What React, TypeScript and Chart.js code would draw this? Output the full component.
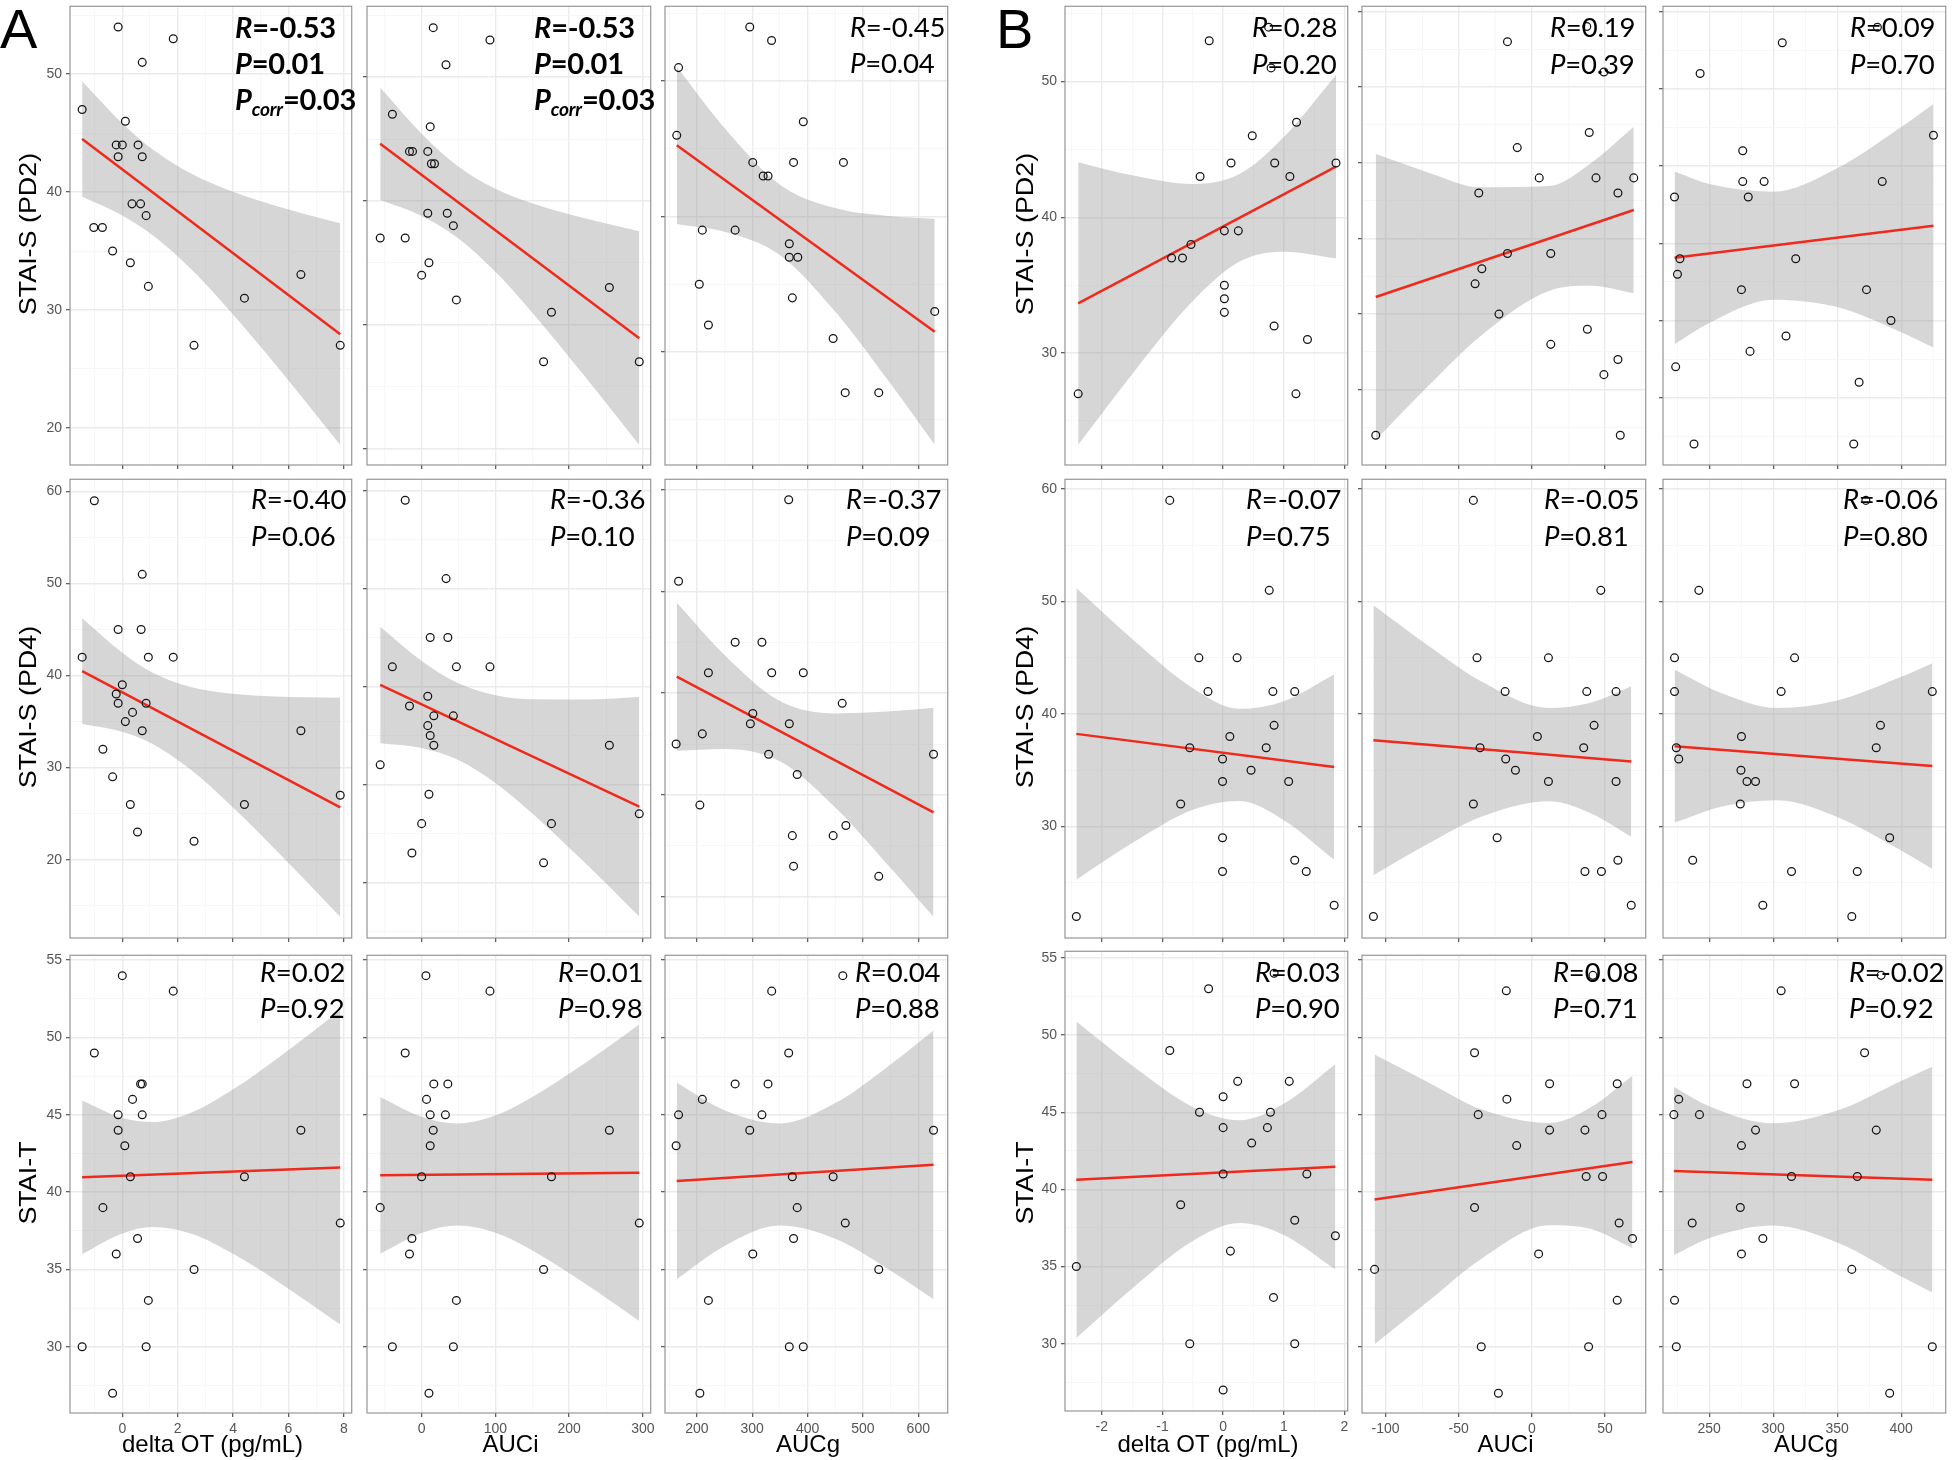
import React, { useEffect, useRef } from "react";
import { Chart, registerables } from "chart.js";

Chart.register(...registerables);

const FONT = "'Liberation Sans', Arial, Helvetica, sans-serif";
const ANN_FONT = "Lato, 'Open Sans', sans-serif";

// ---------------- tick labels (major breaks) ----------------
const A_X_TICKS = [[0, 2, 4, 6, 8], [0, 100, 200, 300], [200, 300, 400, 500, 600]];
const B_X_TICKS = [[-2, -1, 0, 1, 2], [-100, -50, 0, 50], [250, 300, 350, 400]];
const Y_TICKS_10 = [20, 30, 40, 50, 60];
const Y_TICKS_5 = [25, 30, 35, 40, 45, 50, 55];

// ---------------- axis ranges ----------------
const A_X_RANGE = [[-1.889, 8.286], [-74.1, 310.6], [142.5, 653.2]];
const B_X_RANGE = [[-2.607, 2.054], [-116.1, 77.8], [213.9, 434.8]];
const A_Y_RANGE = [
  [[16.85, 55.76], [18.66, 55.73], [21.66, 55.53]],
  [[11.49, 61.33], [14.33, 61.14], [15.94, 61.02]],
  [[25.72, 55.32], [25.72, 55.32], [25.72, 55.32]],
];
const B_Y_RANGE = [
  [[21.76, 55.54], [25.03, 55.34], [25.64, 55.36]],
  [[20.09, 60.88], [20.09, 60.88], [20.09, 60.88]],
  [[25.64, 55.43], [25.72, 55.3], [25.72, 55.3]],
];

// ---------------- group A : STAI-S (PD2) ----------------
const aPd2OtX = [-0.15, 1.84, 0.72, -1.45, 0.11, -0.22, 0, 0.57, -0.15, 0.72, 0.35, 0.66, 0.86, -1.03, -0.72, -0.35, 0.29, 0.94, 4.41, 6.45, 2.59, 7.87];
const aPd2OtY = [54, 53, 51, 47, 46, 44, 44, 44, 43, 43, 39, 39, 38, 37, 37, 35, 34, 32, 31, 33, 27, 27];
const aPd2OtFitX = [-1.45, 7.87];
const aPd2OtFitY = [44.5, 27.95];
const aPd2OtBandX = [-1.45, 0, 1.1, 2.5, 4, 5.5, 7.87];
const aPd2OtUp = [49.4, 45.82, 43.61, 41.55, 40.02, 38.87, 37.35];
const aPd2OtLo = [39.6, 38.02, 36.33, 33.43, 29.62, 25.45, 18.55];

const aPd2AuciX = [-56.2, -39.7, -22.3, 0, -16.5, -12.4, 8.3, 11.6, 15.7, 33, 92.6, 13.2, 17.4, 8.3, 34.7, 43, 9.9, 47.1, 176, 254.5, 165.3, 295];
const aPd2AuciY = [37, 47, 37, 34, 44, 44, 44, 46, 54, 51, 53, 43, 43, 39, 39, 38, 35, 32, 31, 33, 27, 27];
const aPd2AuciFitX = [-56.2, 295];
const aPd2AuciFitY = [44.62, 28.91];
const aPd2AuciBandX = [-56.2, 0, 49, 100, 150, 220, 295];
const aPd2AuciUp = [49.17, 45.43, 42.81, 40.99, 39.81, 38.61, 37.54];
const aPd2AuciLo = [40.07, 38.79, 37.01, 34.27, 30.97, 25.91, 20.28];

const aPd2AucgX = [167, 163.7, 295.6, 335, 392.3, 301, 374.7, 464.8, 319.8, 328.6, 209.9, 269.2, 367, 367, 382.4, 204.4, 372.5, 220.9, 629.7, 446.2, 468, 528.6];
const aPd2AucgY = [51, 46, 54, 53, 47, 44, 44, 44, 43, 43, 39, 39, 38, 37, 37, 35, 34, 32, 33, 31, 27, 27];
const aPd2AucgFitX = [163.7, 629.7];
const aPd2AucgFitY = [45.26, 31.49];
const aPd2AucgBandX = [163.7, 250, 350, 450, 550, 629.7];
const aPd2AucgUp = [51.06, 46.54, 42.36, 40.63, 40.03, 39.83];
const aPd2AucgLo = [39.46, 38.88, 37.16, 32.97, 27.65, 23.15];

// ---------------- group A : STAI-S (PD4) ----------------
const aPd4OtX = [-1.01, 0.72, -0.15, 0.68, -1.45, 0.94, 1.84, 0, -0.22, -0.15, 0.86, 0.37, 0.11, 0.72, 6.45, -0.7, -0.35, 0.29, 4.41, 0.55, 2.59, 7.87];
const aPd4OtY = [59, 51, 45, 45, 42, 42, 42, 39, 38, 37, 37, 36, 35, 34, 34, 32, 29, 26, 26, 23, 22, 27];
const aPd4OtFitX = [-1.45, 7.87];
const aPd4OtFitY = [40.49, 25.69];
const aPd4OtBandX = [-1.45, 0, 1.1, 2.5, 4, 5.5, 7.87];
const aPd4OtUp = [46.24, 42.48, 40.31, 38.73, 38.02, 37.73, 37.59];
const aPd4OtLo = [34.74, 33.9, 32.57, 29.71, 25.66, 21.19, 13.79];

const aPd4AuciX = [-22.3, 33.1, 11.6, 35.5, -39.7, 47.1, 92.6, 8.3, -16.5, 16.5, 43, 8.3, 11.6, 16.5, 254.5, -56.2, 9.9, 0, 165.3, -13.2, 295, 176];
const aPd4AuciY = [59, 51, 45, 45, 42, 42, 42, 39, 38, 37, 37, 36, 35, 34, 34, 32, 29, 26, 22, 23, 27, 26];
const aPd4AuciFitX = [-56.2, 295];
const aPd4AuciFitY = [40.15, 27.73];
const aPd4AuciBandX = [-56.2, 0, 49, 100, 150, 220, 295];
const aPd4AuciUp = [46.1, 42.6, 40.35, 39.11, 38.68, 38.66, 38.93];
const aPd4AuciLo = [34.2, 33.72, 32.51, 30.15, 27.04, 22.1, 16.53];

const aPd4AucgX = [365.9, 167, 269.2, 317.6, 220.9, 335.2, 392.3, 462.6, 301.1, 296.7, 367, 209.9, 162.6, 329.7, 381.3, 627.5, 205.5, 372.5, 446.2, 469.2, 374.7, 528.6];
const aPd4AucgY = [59, 51, 45, 45, 42, 42, 42, 39, 38, 37, 37, 36, 35, 34, 32, 34, 29, 26, 26, 27, 23, 22];
const aPd4AucgFitX = [163.7, 627.5];
const aPd4AucgFitY = [41.62, 28.29];
const aPd4AucgBandX = [163.7, 250, 350, 450, 550, 627.5];
const aPd4AucgUp = [48.89, 43.76, 39.23, 38.01, 38.21, 38.56];
const aPd4AucgLo = [34.35, 34.52, 33.31, 28.77, 22.83, 18.02];

// ---------------- group A : STAI-T ----------------
const aTOtX = [0, 1.84, -1.01, 0.66, 0.72, 0.37, -0.15, 0.72, -0.15, 6.45, 0.09, 0.29, 4.41, -0.7, 7.87, 0.55, -0.22, 2.59, 0.94, -1.45, 0.86, -0.35];
const aTOtY = [54, 53, 49, 47, 47, 46, 45, 45, 44, 44, 43, 41, 41, 39, 38, 37, 36, 35, 33, 30, 30, 27];
const aTOtFitX = [-1.45, 7.87];
const aTOtFitY = [40.96, 41.6];
const aTOtBandX = [-1.45, 0, 1.1, 2.5, 4, 5.5, 7.87];
const aTOtUp = [45.92, 44.79, 44.53, 45.15, 46.65, 48.52, 51.75];
const aTOtLo = [36.0, 37.33, 37.75, 37.31, 36.01, 34.36, 31.45];

const aTAuciX = [5.8, 92.6, -22.3, 16.5, 35.5, 6.6, 11.6, 32.2, 15.7, 254.5, 11.6, 0, 176, -56.2, 295, -13.2, -16.5, 165.3, 47.1, -39.7, 43, 9.9];
const aTAuciY = [54, 53, 49, 47, 47, 46, 45, 45, 44, 44, 43, 41, 41, 39, 38, 37, 36, 35, 33, 30, 30, 27];
const aTAuciFitX = [-56.2, 295];
const aTAuciFitY = [41.09, 41.26];
const aTAuciBandX = [-56.2, 0, 49, 100, 150, 220, 295];
const aTAuciUp = [46.16, 44.88, 44.44, 44.95, 46.15, 48.3, 50.85];
const aTAuciLo = [36.02, 37.36, 37.84, 37.37, 36.23, 34.14, 31.67];

const aTAucgX = [463.7, 335.2, 365.9, 269.2, 328.6, 209.9, 167, 317.6, 295.6, 627.5, 162.6, 372.5, 446.2, 381.3, 468.1, 374.7, 301.1, 528.6, 220.9, 367, 392.3, 205.5];
const aTAucgY = [54, 53, 49, 47, 47, 46, 45, 45, 44, 44, 43, 41, 41, 39, 38, 37, 36, 35, 33, 30, 30, 27];
const aTAucgFitX = [163.7, 627.5];
const aTAucgFitY = [40.72, 41.77];
const aTAucgBandX = [163.7, 250, 350, 450, 550, 627.5];
const aTAucgUp = [47.07, 45.3, 44.44, 45.76, 48.26, 50.46];
const aTAucgLo = [34.37, 36.52, 37.84, 36.98, 34.92, 33.08];

// ---------------- group B : STAI-S (PD2) ----------------
const bPd2OtX = [-0.23, 0.75, 0.79, 1.21, 0.48, 0.13, 0.85, 1.86, -0.38, 1.1, 0.02, 0.25, -0.53, -0.85, -0.67, 0.02, 0.02, 0.02, 0.84, 1.39, -2.39, 1.2];
const bPd2OtY = [53, 54, 51, 47, 46, 44, 44, 44, 43, 43, 39, 39, 38, 37, 37, 35, 34, 33, 32, 31, 27, 27];
const bPd2OtFitX = [-2.39, 1.86];
const bPd2OtFitY = [33.66, 43.73];
const bPd2OtBandX = [-2.39, -1.5, -0.5, 0.27, 1, 1.86];
const bPd2OtUp = [44.06, 43.09, 42.45, 43.18, 45.91, 50.48];
const bPd2OtLo = [23.26, 28.45, 33.83, 36.74, 37.47, 36.98];

const bPd2AuciX = [-16.7, 37.5, 49.2, 39.2, -10, -36.3, 5, 43.8, 69.6, 58.8, -16.7, 12.9, -34.2, -38.8, -22.5, 37.9, 12.9, 58.8, 49.2, -106.7, 60.4];
const bPd2AuciY = [53, 54, 51, 47, 46, 43, 44, 44, 44, 43, 39, 39, 38, 37, 35, 34, 33, 32, 31, 27, 27];
const bPd2AuciFitX = [-106.7, 69.6];
const bPd2AuciFitY = [36.13, 41.88];
const bPd2AuciBandX = [-106.7, -70, -35, 12, 40, 69.6];
const bPd2AuciUp = [45.57, 44.33, 43.38, 43.46, 44.95, 47.38];
const bPd2AuciLo = [26.69, 30.33, 33.56, 36.54, 36.87, 36.38];

const bPd2AucgX = [307.1, 242.9, 381.4, 425.2, 276.2, 276.2, 292.9, 385.2, 280.5, 222.9, 227.1, 317.6, 225.2, 275.2, 372.9, 392, 310, 281.9, 223.8, 367.1, 238.1, 362.9];
const bPd2AucgY = [53, 51, 54, 47, 46, 44, 44, 44, 43, 43, 39, 39, 38, 37, 37, 35, 34, 33, 32, 31, 27, 27];
const bPd2AucgFitX = [222.9, 425.2];
const bPd2AucgFitY = [39.06, 41.14];
const bPd2AucgBandX = [222.9, 250, 300, 350, 400, 425.2];
const bPd2AucgUp = [44.65, 43.84, 43.35, 44.87, 47.54, 49.03];
const bPd2AucgLo = [33.47, 34.84, 36.35, 35.87, 34.24, 33.25];

// ---------------- group B : STAI-S (PD4) ----------------
const bPd4OtX = [-0.88, 0.76, -0.4, 0.23, -0.25, 0.82, 1.18, 0.84, 0.11, -0.55, 0.71, -0.01, 0.46, -0.01, 1.08, -0.7, -0.01, -0.01, 1.18, 1.37, 1.83, -2.42];
const bPd4OtY = [59, 51, 45, 45, 42, 42, 42, 39, 38, 37, 37, 36, 35, 34, 34, 32, 29, 26, 27, 26, 23, 22];
const bPd4OtFitX = [-2.42, 1.83];
const bPd4OtFitY = [38.24, 35.29];
const bPd4OtBandX = [-2.42, -1.5, -0.5, 0.27, 1, 1.83];
const bPd4OtUp = [51.2, 46.67, 42.3, 40.47, 41.15, 43.52];
const bPd4OtLo = [25.28, 28.53, 31.5, 32.27, 30.57, 27.06];

const bPd4AuciX = [-40, 47.1, -37.5, 11.3, -18.3, 37.5, 57.5, 42.5, 3.75, -35.4, 35.4, -17.9, -11.25, 11.3, 57.5, -40, -23.75, 36.25, 47.5, 58.75, 67.9, -108.3];
const bPd4AuciY = [59, 51, 45, 45, 42, 42, 42, 39, 38, 37, 37, 36, 35, 34, 34, 32, 29, 26, 26, 27, 23, 22];
const bPd4AuciFitX = [-108.3, 67.9];
const bPd4AuciFitY = [37.68, 35.79];
const bPd4AuciBandX = [-108.3, -70, -35, 12, 40, 67.9];
const bPd4AuciUp = [49.68, 46.01, 42.94, 40.54, 41.0, 42.48];
const bPd4AuciLo = [25.68, 28.53, 30.84, 32.24, 31.18, 29.1];

const bPd4AucgX = [372.4, 241.9, 222.9, 316.7, 222.9, 306.2, 424.3, 383.8, 275.2, 224.3, 380.5, 226.2, 274.8, 279.5, 286.2, 274.3, 391, 237.1, 314.3, 365.7, 291.9, 361.4];
const bPd4AucgY = [59, 51, 45, 45, 42, 42, 42, 39, 38, 37, 37, 36, 35, 34, 34, 32, 29, 27, 26, 26, 23, 22];
const bPd4AucgFitX = [222.9, 424.3];
const bPd4AucgFitY = [37.15, 35.38];
const bPd4AucgBandX = [222.9, 260, 303, 350, 400, 424.3];
const bPd4AucgUp = [43.95, 41.85, 40.54, 41.21, 43.31, 44.53];
const bPd4AucgLo = [30.35, 31.79, 32.34, 30.85, 27.87, 26.23];

// ---------------- group B : STAI-T ----------------
const bTOtX = [-0.24, 0.84, -0.88, 0.24, 1.09, 0, -0.39, 0.78, 0, 0.73, 0.47, 0, 1.38, -0.7, 1.18, 1.85, 0.12, -2.42, 0.83, -0.55, 1.18, 0];
const bTOtY = [53, 54, 49, 47, 47, 46, 45, 45, 44, 44, 43, 41, 41, 39, 38, 37, 36, 35, 33, 30, 30, 27];
const bTOtFitX = [-2.42, 1.85];
const bTOtFitY = [40.62, 41.46];
const bTOtBandX = [-2.42, -1.5, -0.5, 0.27, 1, 1.85];
const bTOtUp = [50.87, 48.02, 45.34, 44.48, 45.55, 48.11];
const bTOtLo = [30.37, 33.58, 36.66, 37.82, 37.05, 34.81];

const bTAuciX = [-17.5, 41.7, -39.2, 12.1, 58.3, -17.1, -36.7, 47.9, 12.1, 36.25, -10.4, 37.1, 48.3, -39.2, 59.6, 68.75, 4.6, -107.5, 58.3, -34.6, 38.75, -22.9];
const bTAuciY = [53, 54, 49, 47, 47, 46, 45, 45, 44, 44, 43, 41, 41, 39, 38, 37, 36, 35, 33, 30, 30, 27];
const bTAuciFitX = [-107.5, 68.75];
const bTAuciFitY = [39.52, 41.94];
const bTAuciBandX = [-107.5, -70, -35, 12, 40, 68.75];
const bTAuciUp = [48.88, 47.05, 45.36, 44.46, 45.46, 47.51];
const bTAuciLo = [30.16, 33.01, 35.66, 37.86, 37.62, 36.37];

const bTAucgX = [306.2, 384.3, 371.4, 279.5, 316.7, 226.2, 222.4, 242.4, 286.2, 380.5, 275.2, 314.3, 365.7, 274.3, 236.7, 291.9, 275.2, 361.4, 222.9, 224.3, 424.3, 391];
const bTAucgY = [53, 54, 49, 47, 47, 46, 45, 45, 44, 44, 43, 41, 41, 39, 38, 37, 36, 35, 33, 30, 30, 27];
const bTAucgFitX = [222.4, 424.3];
const bTAucgFitY = [41.36, 40.8];
const bTAucgBandX = [222.4, 250, 300, 350, 400, 424.3];
const bTAucgUp = [46.79, 45.54, 44.44, 45.26, 47.18, 48.09];
const bTAucgLo = [35.93, 37.02, 37.84, 36.74, 34.54, 33.51];

// ---------------- statistics text ----------------
const A_STATS = [
  [[["R", "-0.53"], ["P", "0.01"], ["Pcorr", "0.03"]], [["R", "-0.53"], ["P", "0.01"], ["Pcorr", "0.03"]], [["R", "-0.45"], ["P", "0.04"]]],
  [[["R", "-0.40"], ["P", "0.06"]], [["R", "-0.36"], ["P", "0.10"]], [["R", "-0.37"], ["P", "0.09"]]],
  [[["R", "0.02"], ["P", "0.92"]], [["R", "0.01"], ["P", "0.98"]], [["R", "0.04"], ["P", "0.88"]]],
];
const B_STATS = [
  [[["R", "0.28"], ["P", "0.20"]], [["R", "0.19"], ["P", "0.39"]], [["R", "0.09"], ["P", "0.70"]]],
  [[["R", "-0.07"], ["P", "0.75"]], [["R", "-0.05"], ["P", "0.81"]], [["R", "-0.06"], ["P", "0.80"]]],
  [[["R", "0.03"], ["P", "0.90"]], [["R", "0.08"], ["P", "0.71"]], [["R", "-0.02"], ["P", "0.92"]]],
];
const A_BOLD = [[true, true, false], [false, false, false], [false, false, false]];

const ROW_TITLES = ["STAI-S (PD2)", "STAI-S (PD4)", "STAI-T"];
const COL_TITLES = ["delta OT (pg/mL)", "AUCi", "AUCg"];
const GROUP_LABELS = ["A", "B"];

// ---------------- layout (pixels) ----------------
const A_COLS = [[70, 355], [367, 654], [665, 951]];
const B_COLS = [[1065, 1351], [1362, 1649], [1663, 1949]];
const ROWS = [[3, 465], [476, 938], [952, 1413]];
const A_ANN_X = [[235, 534, 850], [251, 550, 846], [260, 558, 855]];
const B_ANN_X = [[1252, 1550, 1850], [1246, 1544, 1843], [1255, 1553, 1849]];
const A_ANN_Y = [[28, 64, 100], [500, 536.5], [972.5, 1009]];
const B_ANN_Y = [[28, 64.5], [499.5, 536.5], [972.5, 1009]];

const zip = (xs: number[], ys: number[]) => xs.map((x, i) => ({ x, y: ys[i] }));

type Spec = {
  key: string;
  rect: number[];
  col: number;
  row: number;
  pts: any[];
  fit: any[];
  up: any[];
  lo: any[];
  xr: number[];
  yr: number[];
  xt: number[];
  yt: number[];
};

const A_DATA = [
  [
    [aPd2OtX, aPd2OtY, aPd2OtFitX, aPd2OtFitY, aPd2OtBandX, aPd2OtUp, aPd2OtLo],
    [aPd2AuciX, aPd2AuciY, aPd2AuciFitX, aPd2AuciFitY, aPd2AuciBandX, aPd2AuciUp, aPd2AuciLo],
    [aPd2AucgX, aPd2AucgY, aPd2AucgFitX, aPd2AucgFitY, aPd2AucgBandX, aPd2AucgUp, aPd2AucgLo],
  ],
  [
    [aPd4OtX, aPd4OtY, aPd4OtFitX, aPd4OtFitY, aPd4OtBandX, aPd4OtUp, aPd4OtLo],
    [aPd4AuciX, aPd4AuciY, aPd4AuciFitX, aPd4AuciFitY, aPd4AuciBandX, aPd4AuciUp, aPd4AuciLo],
    [aPd4AucgX, aPd4AucgY, aPd4AucgFitX, aPd4AucgFitY, aPd4AucgBandX, aPd4AucgUp, aPd4AucgLo],
  ],
  [
    [aTOtX, aTOtY, aTOtFitX, aTOtFitY, aTOtBandX, aTOtUp, aTOtLo],
    [aTAuciX, aTAuciY, aTAuciFitX, aTAuciFitY, aTAuciBandX, aTAuciUp, aTAuciLo],
    [aTAucgX, aTAucgY, aTAucgFitX, aTAucgFitY, aTAucgBandX, aTAucgUp, aTAucgLo],
  ],
];
const B_DATA = [
  [
    [bPd2OtX, bPd2OtY, bPd2OtFitX, bPd2OtFitY, bPd2OtBandX, bPd2OtUp, bPd2OtLo],
    [bPd2AuciX, bPd2AuciY, bPd2AuciFitX, bPd2AuciFitY, bPd2AuciBandX, bPd2AuciUp, bPd2AuciLo],
    [bPd2AucgX, bPd2AucgY, bPd2AucgFitX, bPd2AucgFitY, bPd2AucgBandX, bPd2AucgUp, bPd2AucgLo],
  ],
  [
    [bPd4OtX, bPd4OtY, bPd4OtFitX, bPd4OtFitY, bPd4OtBandX, bPd4OtUp, bPd4OtLo],
    [bPd4AuciX, bPd4AuciY, bPd4AuciFitX, bPd4AuciFitY, bPd4AuciBandX, bPd4AuciUp, bPd4AuciLo],
    [bPd4AucgX, bPd4AucgY, bPd4AucgFitX, bPd4AucgFitY, bPd4AucgBandX, bPd4AucgUp, bPd4AucgLo],
  ],
  [
    [bTOtX, bTOtY, bTOtFitX, bTOtFitY, bTOtBandX, bTOtUp, bTOtLo],
    [bTAuciX, bTAuciY, bTAuciFitX, bTAuciFitY, bTAuciBandX, bTAuciUp, bTAuciLo],
    [bTAucgX, bTAucgY, bTAucgFitX, bTAucgFitY, bTAucgBandX, bTAucgUp, bTAucgLo],
  ],
];

function yTicksFor(g: string, r: number, c: number) {
  if (g === "A") return r === 2 ? Y_TICKS_5 : Y_TICKS_10;
  if (r === 0) return c === 0 ? Y_TICKS_10 : Y_TICKS_5;
  if (r === 1) return Y_TICKS_10;
  return Y_TICKS_5;
}

function buildSpecs(): Spec[] {
  const out: Spec[] = [];
  ["A", "B"].forEach((g) => {
    const data = g === "A" ? A_DATA : B_DATA;
    const cols = g === "A" ? A_COLS : B_COLS;
    for (let r = 0; r < 3; r++) {
      for (let c = 0; c < 3; c++) {
        const [px, py, fx, fy, bx, bu, bl] = data[r][c];
        let rows = ROWS[r];
        if (g === "B" && r === 2 && c === 0) rows = [948, 1411];
        out.push({
          key: g + r + c,
          rect: [cols[c][0], cols[c][1], rows[0], rows[1]],
          col: c,
          row: r,
          pts: zip(px, py),
          fit: zip(fx, fy),
          up: zip(bx, bu),
          lo: zip(bx, bl),
          xr: g === "A" ? A_X_RANGE[c] : B_X_RANGE[c],
          yr: g === "A" ? A_Y_RANGE[r][c] : B_Y_RANGE[r][c],
          xt: g === "A" ? A_X_TICKS[c] : B_X_TICKS[c],
          yt: yTicksFor(g, r, c),
        });
      }
    }
  });
  return out;
}

const key6 = (v: number) => Number(v).toFixed(6);

function buildTicks(majors: number[], min: number, max: number) {
  const step = majors[1] - majors[0];
  const m = new Map<string, number>();
  const add = (v: number) => {
    if (v >= min - 1e-9 && v <= max + 1e-9) m.set(key6(v), v);
  };
  majors.forEach((v) => {
    add(v);
    add(v - step / 2);
    add(v + step / 2);
  });
  return Array.from(m.values()).sort((a, b) => a - b);
}

function scaleCfg(isX: boolean, range: number[], majors: number[], showLabels: boolean, size: number) {
  const vals = buildTicks(majors, range[0], range[1]);
  const majorSet = new Set(majors.map(key6));
  const isMajor = (v: any) => majorSet.has(key6(v));
  return {
    type: "linear",
    position: isX ? "bottom" : "left",
    min: range[0],
    max: range[1],
    bounds: "data",
    afterBuildTicks: (s: any) => {
      s.ticks = vals.map((v) => ({ value: v }));
    },
    afterFit: (s: any) => {
      if (isX) s.height = size;
      else s.width = size;
      s.paddingLeft = 0;
      s.paddingRight = 0;
      s.paddingTop = 0;
      s.paddingBottom = 0;
    },
    grid: {
      display: true,
      drawOnChartArea: true,
      drawTicks: true,
      color: (c: any) => (c.tick && isMajor(c.tick.value) ? "#ebebeb" : "#f5f5f5"),
      lineWidth: (c: any) => (c.tick && isMajor(c.tick.value) ? 1.4 : 0.8),
      tickColor: (c: any) => (c.tick && isMajor(c.tick.value) ? "#444444" : "rgba(0,0,0,0)"),
      tickLength: 4,
      tickWidth: 1.1,
    },
    border: { display: false },
    ticks: {
      autoSkip: false,
      maxRotation: 0,
      minRotation: 0,
      padding: 4,
      color: "#555555",
      font: { family: FONT, size: 14 },
      callback: (v: any) => (showLabels && isMajor(v) ? String(v) : ""),
    },
  };
}

const borderPlugin = {
  id: "panelBorder",
  afterDraw(chart: any) {
    const { ctx, chartArea: a } = chart;
    ctx.save();
    ctx.strokeStyle = "#8c8c8c";
    ctx.lineWidth = 1.1;
    ctx.strokeRect(a.left, a.top, a.right - a.left, a.bottom - a.top);
    ctx.restore();
  },
};

const PADT = 2;
const PADR = 2;

function Panel({ spec }: { spec: Spec }) {
  const ref = useRef<HTMLCanvasElement>(null);
  const [x0, x1, y0, y1] = spec.rect;
  const L = spec.col === 0 ? 46 : 6;
  const B = spec.row === 2 ? 32 : 6;
  const w = x1 - x0 + L + PADR;
  const h = y1 - y0 + PADT + B;

  useEffect(() => {
    const chart = new Chart(ref.current as HTMLCanvasElement, {
      type: "scatter",
      data: {
        datasets: [
          {
            type: "scatter",
            data: spec.pts,
            pointRadius: 3.9,
            pointBorderWidth: 1.25,
            borderColor: "#151515",
            pointBorderColor: "#151515",
            backgroundColor: "rgba(0,0,0,0)",
            pointBackgroundColor: "rgba(0,0,0,0)",
            order: 0,
          },
          {
            type: "line",
            data: spec.fit,
            borderColor: "#ef2a1c",
            borderWidth: 2.5,
            pointRadius: 0,
            fill: false,
            order: 1,
          },
          {
            type: "line",
            data: spec.up,
            borderColor: "rgba(0,0,0,0)",
            borderWidth: 1,
            pointRadius: 0,
            backgroundColor: "rgba(153,153,153,0.4)",
            fill: "+1",
            cubicInterpolationMode: "monotone",
            order: 2,
          },
          {
            type: "line",
            data: spec.lo,
            borderColor: "rgba(0,0,0,0)",
            borderWidth: 1,
            pointRadius: 0,
            fill: false,
            cubicInterpolationMode: "monotone",
            order: 3,
          },
        ],
      } as any,
      options: {
        animation: false,
        responsive: false,
        maintainAspectRatio: false,
        devicePixelRatio: 1,
        events: [],
        layout: { padding: { top: PADT, right: PADR, left: 0, bottom: 0 } },
        plugins: {
          legend: { display: false },
          tooltip: { enabled: false },
          title: { display: false },
        },
        scales: {
          x: scaleCfg(true, spec.xr, spec.xt, spec.row === 2, B),
          y: scaleCfg(false, spec.yr, spec.yt, spec.col === 0, L),
        },
      } as any,
      plugins: [borderPlugin],
    });
    return () => chart.destroy();
  }, []);

  return (
    <canvas
      ref={ref}
      width={w}
      height={h}
      style={{ position: "absolute", left: x0 - L, top: y0 - PADT, width: w, height: h }}
    />
  );
}

function StatLine({ label, value, bold, left, cy }: any) {
  const lab =
    label === "Pcorr" ? (
      <i>
        P<span style={{ fontSize: "0.66em", position: "relative", top: "0.32em" }}>corr</span>
      </i>
    ) : (
      <i>{label}</i>
    );
  return (
    <div
      style={{
        position: "absolute",
        left,
        top: cy - 19,
        height: 36,
        lineHeight: "36px",
        fontFamily: ANN_FONT,
        fontSize: bold ? 29 : 27.5,
        fontWeight: bold ? 700 : 400,
        color: "#000",
        whiteSpace: "nowrap",
        letterSpacing: "-0.2px",
      }}
    >
      {lab}={value}
    </div>
  );
}

export default function App() {
  const specs = buildSpecs();
  const overlays: any[] = [];

  ["A", "B"].forEach((g, gi) => {
    const stats = g === "A" ? A_STATS : B_STATS;
    const annX = g === "A" ? A_ANN_X : B_ANN_X;
    const annY = g === "A" ? A_ANN_Y : B_ANN_Y;
    const cols = g === "A" ? A_COLS : B_COLS;
    for (let r = 0; r < 3; r++) {
      for (let c = 0; c < 3; c++) {
        stats[r][c].forEach((s: any, i: number) => {
          overlays.push(
            <StatLine
              key={`s${g}${r}${c}${i}`}
              label={s[0]}
              value={s[1]}
              bold={g === "A" && A_BOLD[r][c]}
              left={annX[r][c]}
              cy={annY[r][i]}
            />
          );
        });
      }
      overlays.push(
        <div
          key={`yt${g}${r}`}
          style={{
            position: "absolute",
            left: g === "A" ? 28 : 1025,
            top: (ROWS[r][0] + ROWS[r][1]) / 2,
            transform: "translate(-50%, -50%) rotate(-90deg) scaleX(1.12)",
            fontFamily: FONT,
            fontSize: 24,
            lineHeight: 1,
            whiteSpace: "nowrap",
            color: "#000",
          }}
        >
          {ROW_TITLES[r]}
        </div>
      );
    }
    for (let c = 0; c < 3; c++) {
      overlays.push(
        <div
          key={`xt${g}${c}`}
          style={{
            position: "absolute",
            left: (cols[c][0] + cols[c][1]) / 2,
            top: 1444,
            transform: "translate(-50%, -50%)",
            fontFamily: FONT,
            fontSize: 24,
            lineHeight: 1,
            whiteSpace: "nowrap",
            color: "#000",
          }}
        >
          {COL_TITLES[c]}
        </div>
      );
    }
    overlays.push(
      <div
        key={`g${g}`}
        style={{
          position: "absolute",
          left: gi === 0 ? 0 : 996,
          top: 1,
          fontFamily: FONT,
          fontSize: 56,
          lineHeight: 1,
          color: "#000",
        }}
      >
        {GROUP_LABELS[gi]}
      </div>
    );
  });

  return (
    <div
      style={{
        position: "absolute",
        left: 0,
        top: 0,
        width: 1952,
        height: 1460,
        background: "#ffffff",
        overflow: "hidden",
      }}
    >
      {specs.map((s) => (
        <Panel key={s.key} spec={s} />
      ))}
      {overlays}
    </div>
  );
}
